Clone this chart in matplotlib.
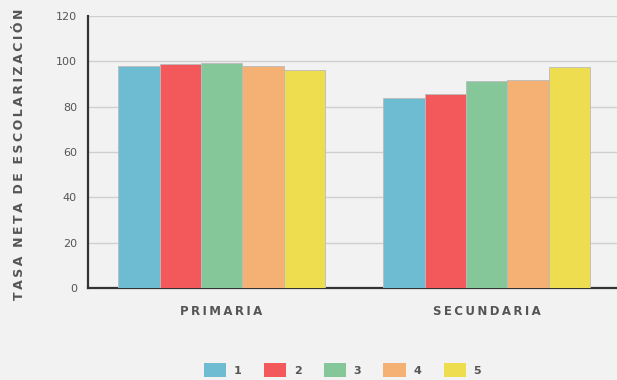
import numpy as np
import matplotlib.pyplot as plt
from matplotlib.patches import Patch

# Datos
niveles = ['PRIMARIA', 'SECUNDARIA']
quintiles = ['1', '2', '3', '4', '5']
q1 = [97.9, 84.0]
q2 = [99.0, 85.7]
q3 = [99.1, 91.3]
q4 = [98.1, 91.8]
q5 = [96.2, 97.4]
colores = ['#6dbcd1', '#f3595b', '#86c79a', '#f4b173', '#eedd4f']

series = [q1, q2, q3, q4, q5]
fondo = '#f2f2f2'
gris_texto = '#555555'


def espaciar(texto):
    # separa las letras con un espacio fino
    return '\u2009'.join(texto).replace('\u2009 \u2009', '  ')


fig = plt.figure(figsize=(6.17, 3.8), dpi=100, facecolor=fondo)
ax = fig.add_axes([88 / 617, 1 - 288 / 380, 530 / 617, 272 / 380])
ax.set_facecolor(fondo)

x = np.arange(len(niveles))
ancho = 0.156
for i, (vals, c) in enumerate(zip(series, colores)):
    ax.bar(x + (i - 2) * ancho, vals, width=ancho, color=c,
           edgecolor='#bbbbbb', linewidth=0.6, zorder=3, label=quintiles[i])

ax.set_xlim(-0.504, 1.496)
ax.set_ylim(0, 120)
ax.set_yticks(range(0, 121, 20))
ax.grid(axis='y', color='#cfcfcf', linewidth=1, zorder=0)

for s in ['top', 'right']:
    ax.spines[s].set_visible(False)
ax.spines['left'].set_color('#333333')
ax.spines['bottom'].set_color('#333333')
ax.spines['left'].set_linewidth(1.6)
ax.spines['bottom'].set_linewidth(1.6)

ax.set_xticks(x)
ax.set_xticklabels([espaciar(n) for n in niveles], fontsize=8.5,
                   fontweight='bold', color=gris_texto)
ax.tick_params(axis='x', length=0, pad=12)
ax.tick_params(axis='y', length=0, pad=8, labelsize=8, labelcolor=gris_texto)

fig.text(20 / 617, 1 - 154 / 380, espaciar('TASA NETA DE ESCOLARIZACIÓN'), rotation=90,
         ha='center', va='center', fontsize=9, fontweight='bold', color=gris_texto)

handles = [Patch(facecolor=c, edgecolor='none') for c in colores]
fig.legend(handles, quintiles, loc='center', bbox_to_anchor=(0.555, 1 - 370 / 380),
           ncol=5, frameon=False, handlelength=2.0, handleheight=1.6,
           columnspacing=2.0, handletextpad=0.7,
           prop={'size': 8, 'weight': 'bold'}, labelcolor=gris_texto)

fig.savefig('out.png', dpi=100, facecolor=fondo)
